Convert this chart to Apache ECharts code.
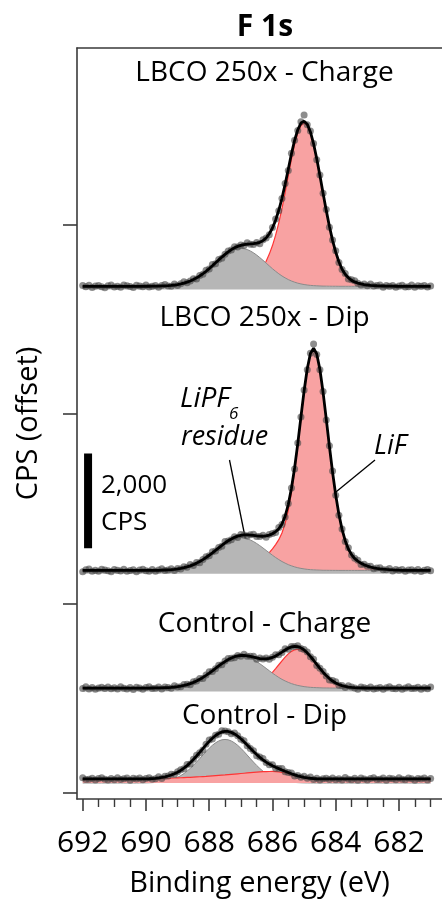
<!DOCTYPE html>
<html>
<head>
<meta charset="utf-8">
<script src="https://cdn.jsdelivr.net/npm/echarts@6/dist/echarts.min.js"></script>
<style>
  html, body { margin: 0; padding: 0; background: #ffffff; }
  #chart { width: 442px; height: 903px; }
</style>
</head>
<body>
<div id="chart"></div>
<script>
// Binding energy grid of the F 1s spectra (eV), 0.1 eV steps
const energies = [
  692.0, 691.9, 691.8, 691.7, 691.6, 691.5, 691.4, 691.3, 691.2, 691.1,
  691.0, 690.9, 690.8, 690.7, 690.6, 690.5, 690.4, 690.3, 690.2, 690.1,
  690.0, 689.9, 689.8, 689.7, 689.6, 689.5, 689.4, 689.3, 689.2, 689.1,
  689.0, 688.9, 688.8, 688.7, 688.6, 688.5, 688.4, 688.3, 688.2, 688.1,
  688.0, 687.9, 687.8, 687.7, 687.6, 687.5, 687.4, 687.3, 687.2, 687.1,
  687.0, 686.9, 686.8, 686.7, 686.6, 686.5, 686.4, 686.3, 686.2, 686.1,
  686.0, 685.9, 685.8, 685.7, 685.6, 685.5, 685.4, 685.3, 685.2, 685.1,
  685.0, 684.9, 684.8, 684.7, 684.6, 684.5, 684.4, 684.3, 684.2, 684.1,
  684.0, 683.9, 683.8, 683.7, 683.6, 683.5, 683.4, 683.3, 683.2, 683.1,
  683.0, 682.9, 682.8, 682.7, 682.6, 682.5, 682.4, 682.3, 682.2, 682.1,
  682.0, 681.9, 681.8, 681.7, 681.6, 681.5, 681.4, 681.3, 681.2, 681.1,
  681.0
];

const panelTitles = ['LBCO 250x - Charge', 'LBCO 250x - Dip', 'Control - Charge', 'Control - Dip'];
// Vertical offset of each spectrum (CPS)
const panelOffsets = [10700, 4700, 2215, 211];

// ---- LBCO 250x - Charge ----
const lbcoChargeCounts = [
  15, -10, 22, -25, 5, 18, -8, -30, 12, 28,
  -15, 3, -20, 25, 10, -5, -28, 20, 6, -12,
  25, -17, -1, 17, -22, 16, 37, 7, 3, 46,
  15, 54, 96, 76, 110, 159, 154, 226, 252, 338,
  367, 459, 476, 568, 590, 677, 744, 765, 836, 829,
  872, 859, 918, 890, 883, 923, 899, 982, 1021, 1087,
  1241, 1421, 1593, 1852, 2173, 2447, 2811, 3086, 3288, 3474,
  3619, 3409, 3281, 3015, 2670, 2350, 1964, 1622, 1247, 978,
  749, 505, 354, 271, 156, 136, 116, 63, 29, 46,
  11, 46, 5, 15, 29, -21, 17, 0, 19, -18,
  6, 23, -14, -8, 25, -22, 10, -1, 18, -17,
  7
];
const lbcoChargeLiPF6 = [
  0, 0, 0, 0, 0, 0, 0, 0, 0, 0,
  0, 0, 0, 0, 0, 0, 0, 0, 0, 0,
  1, 1, 2, 3, 4, 7, 10, 14, 19, 27,
  37, 50, 66, 87, 112, 142, 178, 218, 265, 316,
  371, 430, 490, 549, 606, 660, 707, 746, 776, 794,
  800, 794, 776, 746, 707, 660, 606, 549, 490, 430,
  371, 316, 265, 218, 178, 142, 112, 87, 66, 50,
  37, 27, 19, 14, 10, 7, 4, 3, 2, 1,
  1, 0, 0, 0, 0, 0, 0, 0, 0, 0,
  0, 0, 0, 0, 0, 0, 0, 0, 0, 0,
  0, 0, 0, 0, 0, 0, 0, 0, 0, 0,
  0
];
const lbcoChargeLiF = [
  0, 0, 0, 0, 0, 0, 0, 0, 0, 0,
  0, 0, 0, 0, 0, 0, 0, 0, 0, 0,
  0, 0, 0, 0, 0, 0, 0, 0, 0, 0,
  0, 0, 0, 0, 0, 0, 0, 0, 0, 1,
  2, 3, 5, 8, 11, 15, 21, 28, 37, 49,
  65, 86, 113, 148, 193, 250, 322, 415, 530, 680,
  860, 1080, 1340, 1640, 1975, 2331, 2685, 2996, 3240, 3397,
  3450, 3397, 3240, 2996, 2685, 2331, 1962, 1600, 1265, 969,
  720, 518, 361, 255, 180, 125, 92, 68, 50, 37,
  27, 20, 15, 11, 8, 6, 4, 3, 2, 1,
  0, 0, 0, 0, 0, 0, 0, 0, 0, 0,
  0
];

// ---- LBCO 250x - Dip ----
const lbcoDipCounts = [
  -30, 12, 28, -15, 3, -20, 25, 10, -5, -28,
  20, 6, -12, 24, -18, -3, 14, -26, 9, 27,
  -6, -15, 21, -19, 7, 36, -2, 10, 33, -1,
  40, 30, 78, 69, 123, 103, 165, 161, 231, 289,
  311, 394, 411, 485, 509, 609, 622, 648, 712, 695,
  758, 750, 727, 755, 763, 717, 717, 742, 702, 760,
  778, 800, 906, 970, 1129, 1414, 1742, 2140, 2689, 3239,
  3809, 4239, 4587, 4780, 4559, 4235, 3777, 3177, 2633, 2098,
  1585, 1164, 876, 611, 479, 323, 255, 217, 123, 131,
  89, 89, 37, 50, 57, 12, 12, 40, -11, 18,
  4, 21, -15, 8, 15, -10, 22, -25, 5, 18,
  -8
];
const lbcoDipLiPF6 = [
  0, 0, 0, 0, 0, 0, 0, 0, 0, 0,
  0, 0, 0, 0, 0, 0, 0, 0, 0, 0,
  1, 1, 2, 3, 3, 6, 9, 12, 16, 23,
  32, 43, 57, 75, 97, 122, 154, 188, 229, 273,
  320, 371, 423, 474, 523, 569, 610, 643, 669, 685,
  690, 685, 669, 643, 610, 569, 523, 474, 423, 371,
  320, 273, 229, 188, 154, 122, 97, 75, 57, 43,
  32, 23, 16, 12, 9, 6, 3, 3, 2, 1,
  1, 0, 0, 0, 0, 0, 0, 0, 0, 0,
  0, 0, 0, 0, 0, 0, 0, 0, 0, 0,
  0, 0, 0, 0, 0, 0, 0, 0, 0, 0,
  0
];
const lbcoDipLiF = [
  0, 0, 0, 0, 0, 0, 0, 0, 0, 0,
  0, 0, 0, 0, 0, 0, 0, 0, 0, 0,
  0, 0, 0, 0, 0, 0, 0, 0, 0, 0,
  0, 0, 0, 0, 0, 0, 0, 0, 0, 0,
  0, 0, 2, 4, 7, 11, 16, 22, 30, 39,
  50, 64, 81, 102, 128, 160, 200, 248, 305, 375,
  455, 545, 650, 790, 990, 1270, 1640, 2090, 2620, 3198,
  3758, 4236, 4563, 4680, 4563, 4236, 3758, 3198, 2620, 2073,
  1589, 1185, 867, 627, 453, 333, 251, 196, 150, 118,
  92, 72, 56, 44, 34, 26, 20, 15, 11, 8,
  5, 3, 2, 1, 0, 0, 0, 0, 0, 0,
  0
];

// ---- Control - Charge ----
const controlChargeCounts = [
  -6, 26, -19, 11, -27, 2, 16, -9, 23, -14,
  7, -21, 29, -4, -17, 13, -29, 18, 1, -23,
  11, 26, -10, -3, 23, -20, 23, 15, -2, 50,
  23, 28, 78, 79, 70, 133, 149, 204, 205, 277,
  344, 353, 410, 483, 491, 572, 626, 631, 642, 689,
  672, 715, 672, 672, 673, 609, 635, 612, 633, 608,
  654, 702, 704, 753, 830, 821, 880, 881, 894, 834,
  813, 760, 660, 610, 477, 421, 353, 256, 171, 161,
  136, 60, 54, 14, 47, 24, 3, -23, 23, 8,
  -11, 24, -18, -3, 14, -26, 9, 27, -7, -16,
  19, -22, 4, 30, -11, -2, 17, -24, 8, -13,
  21
];
const controlChargeLiPF6 = [
  0, 0, 0, 0, 0, 0, 0, 0, 0, 0,
  0, 0, 0, 0, 0, 0, 0, 0, 0, 0,
  1, 1, 2, 3, 3, 6, 9, 12, 16, 23,
  31, 43, 56, 74, 95, 121, 151, 185, 225, 269,
  316, 366, 417, 467, 515, 561, 601, 634, 660, 675,
  680, 675, 660, 634, 601, 561, 515, 467, 417, 366,
  316, 269, 225, 185, 151, 121, 95, 74, 56, 43,
  31, 23, 16, 12, 9, 6, 3, 3, 2, 1,
  1, 0, 0, 0, 0, 0, 0, 0, 0, 0,
  0, 0, 0, 0, 0, 0, 0, 0, 0, 0,
  0, 0, 0, 0, 0, 0, 0, 0, 0, 0,
  0
];
const controlChargeLiF = [
  0, 0, 0, 0, 0, 0, 0, 0, 0, 0,
  0, 0, 0, 0, 0, 0, 0, 0, 0, 0,
  0, 0, 0, 0, 0, 0, 0, 0, 0, 0,
  0, 0, 0, 0, 0, 0, 0, 0, 0, 0,
  0, 0, 0, 0, 0, 0, 1, 2, 3, 5,
  8, 14, 22, 34, 51, 75, 107, 148, 199, 261,
  332, 410, 493, 576, 654, 722, 775, 808, 820, 808,
  775, 722, 654, 576, 493, 410, 332, 261, 199, 148,
  107, 75, 51, 34, 22, 14, 8, 5, 3, 2,
  1, 0, 0, 0, 0, 0, 0, 0, 0, 0,
  0, 0, 0, 0, 0, 0, 0, 0, 0, 0,
  0
];

// ---- Control - Dip ----
const controlDipCounts = [
  113, 72, 78, 101, 61, 96, 109, 80, 64, 94,
  69, 111, 75, 89, 106, 58, 98, 82, 103, 68,
  94, 113, 79, 91, 132, 96, 141, 147, 187, 179,
  235, 282, 303, 389, 403, 501, 588, 639, 696, 816,
  907, 931, 1006, 1027, 1102, 1100, 1083, 1041, 1056, 996,
  922, 894, 784, 730, 680, 575, 551, 515, 433, 383,
  383, 311, 307, 305, 236, 219, 212, 148, 159, 120,
  140, 102, 126, 75, 101, 61, 88, 101, 76, 108,
  71, 92, 64, 114, 81, 68, 98, 56, 103, 86,
  62, 95, 110, 73, 79, 105, 59, 99, 88, 67,
  112, 77, 70, 107, 90, 60, 97, 83, 104, 65,
  93
];
const controlDipLiPF6 = [
  0, 0, 0, 0, 0, 0, 0, 0, 0, 0,
  0, 0, 0, 0, 0, 0, 0, 0, 1, 2,
  3, 5, 8, 12, 17, 25, 35, 49, 67, 91,
  120, 156, 199, 250, 308, 372, 442, 515, 590, 664,
  734, 796, 848, 887, 912, 920, 912, 887, 848, 796,
  734, 664, 590, 515, 442, 372, 308, 250, 199, 156,
  120, 91, 67, 49, 35, 25, 17, 12, 8, 5,
  3, 2, 1, 0, 0, 0, 0, 0, 0, 0,
  0, 0, 0, 0, 0, 0, 0, 0, 0, 0,
  0, 0, 0, 0, 0, 0, 0, 0, 0, 0,
  0, 0, 0, 0, 0, 0, 0, 0, 0, 0,
  0
];
const controlDipLiF = [
  85, 85, 85, 85, 85, 85, 85, 85, 85, 85,
  85, 85, 85, 85, 85, 85, 85, 85, 85, 85,
  85, 85, 85, 87, 90, 93, 96, 99, 102, 105,
  108, 111, 114, 117, 120, 124, 128, 132, 136, 140,
  145, 150, 155, 160, 165, 170, 176, 182, 188, 194,
  200, 206, 212, 218, 224, 229, 234, 238, 241, 243,
  244, 242, 236, 226, 212, 196, 178, 160, 143, 128,
  116, 106, 99, 94, 90, 88, 86, 85, 85, 85,
  85, 85, 85, 85, 85, 85, 85, 85, 85, 85,
  85, 85, 85, 85, 85, 85, 85, 85, 85, 85,
  85, 85, 85, 85, 85, 85, 85, 85, 85, 85,
  85
];

// Axis ticks
const xMajorTicks = [692, 690, 688, 686, 684, 682];
const xMinorTicks = [691.5, 691, 690.5, 689.5, 689, 688.5, 687.5, 687, 686.5,
                     685.5, 685, 684.5, 683.5, 683, 682.5, 681.5, 681];
const yTicks = [0, 4000, 8000, 12000];

// Scale bar: 2,000 CPS
const scaleBarCps = 2000;
const scaleBarEnergy = 691.83;
const scaleBarStart = 5170;

const FONT = '"Open Sans", "Noto Sans", sans-serif';
const AXIS_COLOR = '#3a3a3a';

const panels = [
  { counts: lbcoChargeCounts, lipf6: lbcoChargeLiPF6, lif: lbcoChargeLiF, lifOnTop: false },
  { counts: lbcoDipCounts, lipf6: lbcoDipLiPF6, lif: lbcoDipLiF, lifOnTop: false },
  { counts: controlChargeCounts, lipf6: controlChargeLiPF6, lif: controlChargeLiF, lifOnTop: false },
  { counts: controlDipCounts, lipf6: controlDipLiPF6, lif: controlDipLiF, lifOnTop: true }
];

const series = [];
panels.forEach((p, k) => {
  const offset = panelOffsets[k];
  const shift = arr => arr.map((v, i) => [energies[i], offset + v]);
  const envelope = energies.map((e, i) => [e, offset + p.lipf6[i] + p.lif[i]]);

  // LiPF6 residue component (grey)
  series.push({
    type: 'line', name: panelTitles[k] + ' LiPF6', data: shift(p.lipf6),
    showSymbol: false, silent: true, z: p.lifOnTop ? 2 : 3,
    lineStyle: { color: '#8a8a8a', width: 1 },
    areaStyle: { color: '#b6b6b6', opacity: 1, origin: offset - (p.lifOnTop ? 0 : 70) }
  });
  // LiF component (red)
  series.push({
    type: 'line', name: panelTitles[k] + ' LiF', data: shift(p.lif),
    showSymbol: false, silent: true, z: p.lifOnTop ? 3 : 2,
    lineStyle: { color: '#ff3434', width: 1.2 },
    areaStyle: { color: '#f8a2a2', opacity: 1, origin: offset }
  });
  // Measured counts
  series.push({
    type: 'scatter', name: panelTitles[k] + ' data', data: shift(p.counts),
    symbol: 'circle', symbolSize: 7, silent: true, z: 4,
    itemStyle: { color: 'rgba(72,72,72,0.78)' }
  });
  // Fitted envelope
  series.push({
    type: 'line', name: panelTitles[k] + ' fit', data: envelope,
    showSymbol: false, silent: true, z: 5,
    lineStyle: { color: '#000000', width: 2.8 }
  });
});

// Scale bar
series.push({
  type: 'line', name: 'scale', silent: true, z: 6, showSymbol: false,
  data: [[scaleBarEnergy, scaleBarStart], [scaleBarEnergy, scaleBarStart + scaleBarCps]],
  lineStyle: { color: '#000000', width: 8, cap: 'butt' }
});

const xRange = { min: 680.64, max: 692.18 };

const option = {
  animation: false,
  backgroundColor: '#ffffff',
  grid: { left: 77, right: -10, top: 48, bottom: 103, containLabel: false },
  xAxis: [
    {
      type: 'value', position: 'bottom', inverse: true, min: xRange.min, max: xRange.max,
      axisLine: { show: true, onZero: false, lineStyle: { color: AXIS_COLOR, width: 1.6 } },
      axisTick: { show: true, inside: false, length: 12, customValues: xMajorTicks,
                  lineStyle: { color: AXIS_COLOR, width: 1.6 } },
      axisLabel: { show: true, customValues: xMajorTicks, margin: 29,
                   fontFamily: FONT, fontSize: 30, color: '#000' },
      splitLine: { show: false },
      name: 'Binding energy (eV)', nameLocation: 'middle', nameGap: 70,
      nameTextStyle: { fontFamily: FONT, fontSize: 29, color: '#000' }
    },
    {
      type: 'value', position: 'bottom', inverse: true, min: xRange.min, max: xRange.max,
      axisLine: { show: false, onZero: false },
      axisTick: { show: true, inside: false, length: 8, customValues: xMinorTicks,
                  lineStyle: { color: AXIS_COLOR, width: 1.4 } },
      axisLabel: { show: false },
      splitLine: { show: false }
    },
    {
      type: 'value', position: 'top', inverse: true, min: xRange.min, max: xRange.max,
      axisLine: { show: true, onZero: false, lineStyle: { color: AXIS_COLOR, width: 1.6 } },
      axisTick: { show: false }, axisLabel: { show: false }, splitLine: { show: false }
    }
  ],
  yAxis: {
    type: 'value', min: -127, max: 15732,
    axisLine: { show: true, onZero: false, lineStyle: { color: AXIS_COLOR, width: 1.6 } },
    axisTick: { show: true, inside: false, length: 14, customValues: yTicks,
                lineStyle: { color: AXIS_COLOR, width: 1.6 } },
    axisLabel: { show: false },
    splitLine: { show: false },
    name: 'CPS (offset)', nameLocation: 'middle', nameGap: 34, nameRotate: 90,
    nameTextStyle: { fontFamily: FONT, fontSize: 29, color: '#000' }
  },
  series: series,
  graphic: [
    { type: 'text', x: 265, y: 27, silent: true,
      style: { text: 'F 1s', fill: '#000', font: 'bold 30px ' + FONT, align: 'center', verticalAlign: 'middle' } },
    { type: 'text', x: 264.5, y: 73.5, silent: true,
      style: { text: panelTitles[0], fill: '#000', font: '28px ' + FONT, align: 'center', verticalAlign: 'middle' } },
    { type: 'text', x: 264.5, y: 318, silent: true,
      style: { text: panelTitles[1], fill: '#000', font: '28px ' + FONT, align: 'center', verticalAlign: 'middle' } },
    { type: 'text', x: 264.5, y: 624, silent: true,
      style: { text: panelTitles[2], fill: '#000', font: '28px ' + FONT, align: 'center', verticalAlign: 'middle' } },
    { type: 'text', x: 264.5, y: 716.5, silent: true,
      style: { text: panelTitles[3], fill: '#000', font: '28px ' + FONT, align: 'center', verticalAlign: 'middle' } },
    // Scale bar caption
    { type: 'text', x: 101, y: 486, silent: true,
      style: { text: '2,000', fill: '#000', font: '26px ' + FONT, align: 'left', verticalAlign: 'middle' } },
    { type: 'text', x: 101, y: 523, silent: true,
      style: { text: 'CPS', fill: '#000', font: '26px ' + FONT, align: 'left', verticalAlign: 'middle' } },
    // Component annotations
    { type: 'text', x: 180, y: 399.5, silent: true,
      style: { text: 'LiPF', fill: '#000', font: 'italic 28px ' + FONT, align: 'left', verticalAlign: 'middle' } },
    { type: 'text', x: 229, y: 414, silent: true,
      style: { text: '6', fill: '#000', font: 'italic 17px ' + FONT, align: 'left', verticalAlign: 'middle' } },
    { type: 'text', x: 181, y: 437, silent: true,
      style: { text: 'residue', fill: '#000', font: 'italic 27px ' + FONT, align: 'left', verticalAlign: 'middle' } },
    { type: 'line', silent: true, shape: { x1: 229.5, y1: 460, x2: 250.5, y2: 564 },
      style: { stroke: '#000', lineWidth: 1.3 } },
    { type: 'text', x: 374, y: 446.5, silent: true,
      style: { text: 'LiF', fill: '#000', font: 'italic 27px ' + FONT, align: 'left', verticalAlign: 'middle' } },
    { type: 'line', silent: true, shape: { x1: 375, y1: 460, x2: 320, y2: 505 },
      style: { stroke: '#000', lineWidth: 1.3 } }
  ]
};

const chart = echarts.init(document.getElementById('chart'), null, { renderer: 'canvas' });
chart.setOption(option);
</script>
</body>
</html>
